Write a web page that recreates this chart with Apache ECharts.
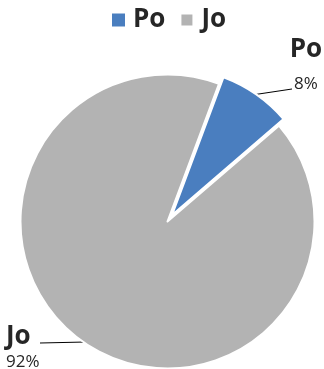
<!DOCTYPE html>
<html>
<head>
<meta charset="utf-8">
<script src="https://cdn.jsdelivr.net/npm/echarts@6/dist/echarts.min.js"></script>
<style>
html,body{margin:0;padding:0;background:#fff;}
#chart{width:324px;height:369px;}
</style>
</head>
<body>
<div id="chart"></div>
<script>
var categories = ['Po', 'Jo'];
var values = [8, 92];
var colors = ['#4a7ebf', '#b3b3b3'];
var explodedIndex = 0;

// ---- styles / layout constants ----
var CENTER = [167.5, 221.5];
var RADIUS = 147;
var START_ANGLE = 69.5;
var EXPLODE = 8;
var FONT = 'Open Sans';
var TXT = '#262626';

var labelPos = {
  0: {x: 306, y: 35, align: 'center', verticalAlign: 'top', lineEnd: [292, 89], pLine: 38},
  1: {x: 6, y: 322, align: 'left', verticalAlign: 'top', lineEnd: [40, 343], pLine: 20}
};

var total = values.reduce(function (a, b) { return a + b; }, 0);
var before = 0;
for (var k = 0; k < explodedIndex; k++) before += values[k];
var midDeg = (90 - START_ANGLE) + 360 * (before + values[explodedIndex] / 2) / total; // clockwise from 12 o'clock
var midRad = midDeg * Math.PI / 180;
var explodedCenter = [CENTER[0] + EXPLODE * Math.sin(midRad), CENTER[1] - EXPLODE * Math.cos(midRad)];

function richFor(i) {
  return {
    n: {fontFamily: FONT, fontWeight: 'bold', fontSize: 26, lineHeight: 30, color: TXT},
    p: {fontFamily: FONT, fontSize: 17, lineHeight: labelPos[i].pLine, color: TXT}
  };
}

function makeData(showIndex) {
  return categories.map(function (c, i) {
    var shown = (showIndex === explodedIndex) ? (i === explodedIndex) : (i !== explodedIndex);
    if (!shown) {
      return {name: c, value: values[i],
        itemStyle: {color: 'rgba(0,0,0,0)', borderWidth: 0},
        label: {show: false}, labelLine: {show: false}};
    }
    return {name: c, value: values[i], itemStyle: {color: colors[i]},
      label: {rich: richFor(i)}};
  });
}

function labelLayout(params) {
  var lp = labelPos[params.dataIndex];
  var res = {x: lp.x, y: lp.y, align: lp.align, verticalAlign: lp.verticalAlign};
  if (params.labelLinePoints && params.labelLinePoints[0]) {
    var s = params.labelLinePoints[0];
    res.labelLinePoints = [[s[0], s[1]], [s[0], s[1]], lp.lineEnd];
  }
  return res;
}

function pieSeries(center, showIndex) {
  return {
    type: 'pie',
    center: center,
    radius: RADIUS,
    startAngle: START_ANGLE,
    clockwise: true,
    selectedMode: false,
    silent: true,
    avoidLabelOverlap: false,
    itemStyle: {borderColor: '#ffffff', borderWidth: 2},
    label: {
      show: true,
      width: 70,
      overflow: 'none',
      formatter: function (p) { return '{n|' + p.name + '}\n{p|' + Math.round(p.percent) + '%}'; }
    },
    labelLine: {show: true, smooth: false, lineStyle: {color: '#000', width: 1}},
    labelLayout: labelLayout,
    emphasis: {disabled: true},
    data: makeData(showIndex)
  };
}

var chart = echarts.init(document.getElementById('chart'), null, {renderer: 'canvas'});

var option = {
  animation: false,
  legend: {
    top: 2,
    left: 107,
    itemWidth: 13,
    itemHeight: 13,
    itemGap: 14,
    icon: 'rect',
    selectedMode: false,
    textStyle: {fontFamily: FONT, fontWeight: 'bold', fontSize: 26, color: TXT, padding: [0, 0, 0, 3]},
    data: categories.map(function (c, i) { return {name: c, itemStyle: {color: colors[i]}}; })
  },
  series: [
    pieSeries(CENTER, 1),
    pieSeries(explodedCenter, explodedIndex)
  ]
};
chart.setOption(option);
</script>
</body>
</html>
